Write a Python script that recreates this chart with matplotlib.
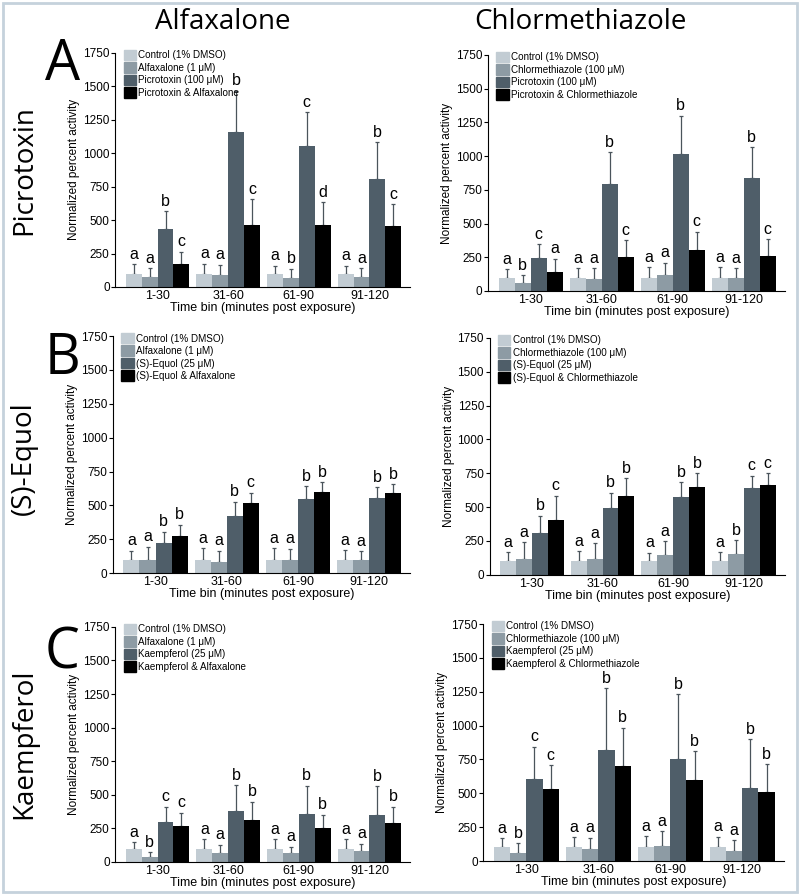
import matplotlib.pyplot as plt
import matplotlib.patches as mpatches
import numpy as np

plt.rcParams['font.family'] = ['Liberation Sans', 'DejaVu Sans']

bins = ["1-30", "31-60", "61-90", "91-120"]
colors = ["#c2ccd3", "#8d9ba4", "#4f5e69", "#000000"]

# panel A, Alfaxalone
a_l_mean = [[100, 100, 100, 100], [75, 90, 70, 75], [435, 1160, 1050, 810], [175, 460, 465, 455]]
a_l_top = [[170, 175, 160, 160], [140, 165, 135, 140], [565, 1465, 1305, 1080], [265, 655, 635, 620]]
a_l_let = [["a", "a", "a", "a"], ["a", "a", "b", "a"], ["b", "b", "c", "b"], ["c", "c", "d", "c"]]
a_l_leg = ["Control (1% DMSO)", "Alfaxalone (1 μM)", "Picrotoxin (100 μM)", "Picrotoxin & Alfaxalone"]

# panel A, Chlormethiazole
a_r_mean = [[100, 100, 100, 100], [62, 92, 120, 97], [245, 792, 1015, 835], [140, 250, 305, 262]]
a_r_top = [[160, 170, 175, 175], [118, 170, 210, 170], [347, 1030, 1300, 1068], [240, 377, 440, 386]]
a_r_let = [["a", "a", "a", "a"], ["b", "a", "a", "a"], ["c", "b", "b", "b"], ["a", "c", "c", "c"]]
a_r_leg = ["Control (1% DMSO)", "Chlormethiazole (100 μM)", "Picrotoxin (100 μM)", "Picrotoxin & Chlormethiazole"]

# panel B, Alfaxalone
b_l_mean = [[100, 95, 95, 95], [100, 85, 95, 95], [225, 425, 545, 555], [275, 520, 600, 588]]
b_l_top = [[165, 185, 185, 170], [195, 165, 180, 160], [305, 527, 640, 636], [358, 595, 672, 655]]
b_l_let = [["a", "a", "a", "a"], ["a", "a", "a", "a"], ["b", "b", "b", "b"], ["b", "c", "b", "b"]]
b_l_leg = ["Control (1% DMSO)", "Alfaxalone (1 μM)", "(S)-Equol (25 μM)", "(S)-Equol & Alfaxalone"]

# panel B, Chlormethiazole
b_r_mean = [[100, 100, 100, 100], [120, 120, 145, 155], [312, 492, 575, 640], [406, 580, 647, 660]]
b_r_top = [[167, 175, 165, 167], [240, 235, 250, 255], [437, 608, 685, 731], [585, 715, 752, 750]]
b_r_let = [["a", "a", "a", "a"], ["a", "a", "a", "b"], ["b", "b", "b", "c"], ["c", "b", "b", "c"]]
b_r_leg = ["Control (1% DMSO)", "Chlormethiazole (100 μM)", "(S)-Equol (25 μM)", "(S)-Equol & Chlormethiazole"]

# panel C, Alfaxalone
c_l_mean = [[100, 100, 100, 97], [38, 70, 65, 80], [295, 382, 355, 348], [268, 315, 253, 290]]
c_l_top = [[149, 170, 170, 170], [74, 130, 115, 137], [412, 573, 568, 565], [367, 449, 352, 410]]
c_l_let = [["a", "a", "a", "a"], ["b", "a", "a", "a"], ["c", "b", "b", "b"], ["c", "b", "b", "b"]]
c_l_leg = ["Control (1% DMSO)", "Alfaxalone (1 μM)", "Kaempferol (25 μM)", "Kaempferol & Alfaxalone"]

# panel C, Chlormethiazole
c_r_mean = [[100, 100, 100, 100], [57, 90, 110, 75], [604, 818, 756, 536], [530, 705, 602, 512]]
c_r_top = [[168, 175, 182, 180], [131, 172, 222, 155], [843, 1275, 1233, 900], [706, 985, 810, 716]]
c_r_let = [["a", "a", "a", "a"], ["b", "a", "a", "a"], ["c", "b", "b", "b"], ["c", "b", "b", "b"]]
c_r_leg = ["Control (1% DMSO)", "Chlormethiazole (100 μM)", "Kaempferol (25 μM)", "Kaempferol & Chlormethiazole"]

panels = [
    (a_l_mean, a_l_top, a_l_let, a_l_leg, [0.144, 0.679, 0.369, 0.262]),
    (a_r_mean, a_r_top, a_r_let, a_r_leg, [0.610, 0.6745, 0.371, 0.264]),
    (b_l_mean, b_l_top, b_l_let, b_l_leg, [0.141, 0.359, 0.372, 0.265]),
    (b_r_mean, b_r_top, b_r_let, b_r_leg, [0.612, 0.357, 0.369, 0.265]),
    (c_l_mean, c_l_top, c_l_let, c_l_leg, [0.144, 0.0358, 0.369, 0.263]),
    (c_r_mean, c_r_top, c_r_let, c_r_leg, [0.604, 0.0369, 0.376, 0.265]),
]

fig = plt.figure(figsize=(8, 8.94), dpi=100)

width = 0.225
x = np.arange(len(bins))
for mean, top, lets, leg, pos in panels:
    ax = fig.add_axes(pos)
    for i in range(4):
        xs = x + (i - 1.5) * width
        m = np.array(mean[i])
        t = np.array(top[i])
        ax.bar(xs, m, width=width, color=colors[i], edgecolor="none", zorder=2)
        ax.errorbar(xs, m, yerr=[np.zeros(4), t - m], fmt="none", ecolor="#4a545b",
                    elinewidth=0.9, capsize=1.5, capthick=0.9, zorder=1)
        for j in range(4):
            ax.text(xs[j], t[j] + 18, lets[i][j], ha="center", va="bottom", fontsize=11.5)
    ax.set_xlim(-0.6, 3.58)
    ax.set_ylim(0, 1750)
    ax.set_yticks(range(0, 1751, 250))
    ax.set_xticks(x)
    ax.set_xticklabels(bins, fontsize=9)
    ax.tick_params(axis="x", length=0, pad=2)
    ax.tick_params(axis="y", labelsize=8.5, length=3, width=0.8, pad=1)
    for s in ["top", "right"]:
        ax.spines[s].set_visible(False)
    for s in ["left", "bottom"]:
        ax.spines[s].set_linewidth(0.8)
    ax.set_ylabel("Normalized percent activity", fontsize=8.5, labelpad=2)
    ax.set_xlabel("Time bin (minutes post exposure)", fontsize=9, labelpad=0)
    handles = [mpatches.Patch(color=c) for c in colors]
    ax.legend(handles, leg, loc="upper left", bbox_to_anchor=(0.015, 1.03), frameon=False,
              fontsize=7.1, handlelength=1.25, handleheight=1.25, handletextpad=0.25,
              labelspacing=0.2, borderaxespad=0)

title_font = ["Open Sans", "DejaVu Sans"]
fig.text(0.278, 0.975, "Alfaxalone", ha="center", va="center", fontsize=20, family=title_font)
fig.text(0.725, 0.975, "Chlormethiazole", ha="center", va="center", fontsize=20, family=title_font)
fig.text(0.03, 0.81, "Picrotoxin", ha="center", va="center", rotation=90, fontsize=20, family=title_font)
fig.text(0.03, 0.487, "(S)-Equol", ha="center", va="center", rotation=90, fontsize=20, family=title_font)
fig.text(0.03, 0.168, "Kaempferol", ha="center", va="center", rotation=90, fontsize=20, family=title_font)
for lab, yy in [("A", 0.927), ("B", 0.598), ("C", 0.268)]:
    fig.text(0.078, yy, lab, ha="center", va="center", fontsize=40, family=title_font)

fig.patches.append(mpatches.Rectangle((0.004, 0.002), 0.992, 0.995, transform=fig.transFigure,
                                      fill=False, edgecolor="#c5d2dc", linewidth=2))

fig.savefig("out.png", dpi=100)
